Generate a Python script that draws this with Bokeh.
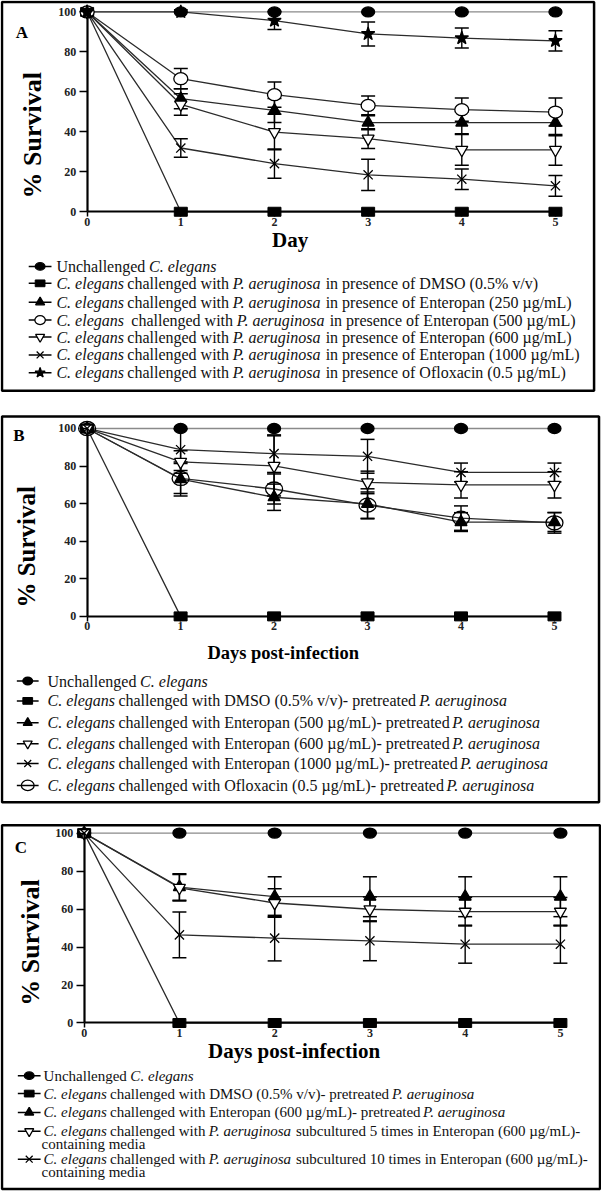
import math
from bokeh.plotting import figure
from bokeh.models import Range1d, LinearAxis, FixedTicker
from bokeh.core.properties import value
from bokeh.embed import file_html
from bokeh.resources import INLINE

# ---------------- data ----------------
DAYS = [0, 1, 2, 3, 4, 5]
X_TICKS = [0, 1, 2, 3, 4, 5]
Y_TICKS = [0, 20, 40, 60, 80, 100]

# Panel A
A_UNCH = [100, 100, 100, 100, 100, 100]
A_DMSO = [100, 0, 0, 0, 0, 0]
A_E250 = [100, 56.6, 50.7, 44.6, 44.6, 44.6]
A_E250_ERR = [0, 5.0, 6.0, 3.5, 5.5, 6.5]
A_E500 = [100, 66.6, 58.6, 53.2, 51.1, 49.9]
A_E500_ERR = [0, 5.1, 6.3, 4.7, 5.8, 7.0]
A_E600 = [100, 53.7, 39.9, 36.6, 31.0, 31.0]
A_E600_ERR = [0, 5.4, 8.9, 5.0, 7.7, 7.7]
A_E1000 = [100, 31.9, 24.1, 18.5, 16.3, 13.0]
A_E1000_ERR = [0, 4.6, 7.3, 7.8, 5.1, 5.2]
A_OFLO = [100, 100, 95.7, 89.0, 86.9, 85.5]
A_OFLO_ERR = [0, 0, 4.5, 6.0, 5.0, 5.1]

# Panel B
B_UNCH = [100, 100, 100, 100, 100, 100]
B_DMSO = [100, 0, 0, 0, 0, 0]
B_E500 = [100, 73.1, 63.4, 59.9, 50.2, 50.2]
B_E500_ERR = [0, 9.0, 7.0, 8.0, 5.0, 5.0]
B_E600 = [100, 82.2, 80.1, 71.3, 70.0, 70.0]
B_E600_ERR = [0, 6.0, 16.0, 6.0, 7.0, 7.0]
B_E1000 = [100, 88.7, 86.6, 85.2, 76.6, 76.6]
B_E1000_ERR = [0, 11.0, 10.0, 9.0, 5.0, 5.0]
B_OFLO = [100, 73.4, 67.8, 59.2, 52.3, 49.8]
B_OFLO_ERR = [0, 8.0, 8.0, 7.0, 6.5, 5.5]

# Panel C
C_UNCH = [100, 100, 100, 100, 100, 100]
C_DMSO = [100, 0, 0, 0, 0, 0]
C_E600 = [100, 71.6, 66.5, 66.5, 66.5, 66.5]
C_E600_ERR = [0, 7.0, 10.5, 10.5, 10.5, 10.5]
C_SUB5 = [100, 71.2, 63.2, 59.9, 58.6, 58.6]
C_SUB5_ERR = [0, 7.0, 7.5, 6.5, 7.5, 7.5]
C_SUB10 = [100, 46.4, 44.7, 43.3, 41.5, 41.5]
C_SUB10_ERR = [0, 12.0, 12.0, 10.5, 10.0, 10.0]

A_LEGEND = [
    [("Unchallenged ", False), ("C. elegans", True)],
    [("C. elegans", True), (" challenged with ", False), ("P. aeruginosa", True), (" in presence of DMSO (0.5% v/v)", False)],
    [("C. elegans", True), (" challenged with ", False), ("P. aeruginosa", True), (" in presence of Enteropan (250 \u00b5g/mL)", False)],
    [("C. elegans", True), ("  challenged with ", False), ("P. aeruginosa", True), (" in presence of Enteropan (500 \u00b5g/mL)", False)],
    [("C. elegans", True), (" challenged with ", False), ("P. aeruginosa", True), (" in presence of Enteropan (600 \u00b5g/mL)", False)],
    [("C. elegans", True), (" challenged with ", False), ("P. aeruginosa", True), (" in presence of Enteropan (1000 \u00b5g/mL)", False)],
    [("C. elegans", True), (" challenged with ", False), ("P. aeruginosa", True), (" in presence of Ofloxacin (0.5 \u00b5g/mL)", False)],
]
B_LEGEND = [
    [("Unchallenged ", False), ("C. elegans", True)],
    [("C. elegans", True), (" challenged with DMSO (0.5% v/v)- pretreated ", False), ("P. aeruginosa", True)],
    [("C. elegans", True), (" challenged with Enteropan (500 \u00b5g/mL)- pretreated ", False), ("P. aeruginosa", True)],
    [("C. elegans", True), (" challenged with Enteropan (600 \u00b5g/mL)- pretreated ", False), ("P. aeruginosa", True)],
    [("C. elegans", True), (" challenged with Enteropan (1000 \u00b5g/mL)- pretreated ", False), ("P. aeruginosa", True)],
    [("C. elegans", True), (" challenged with Ofloxacin (0.5 \u00b5g/mL)- pretreated ", False), ("P. aeruginosa", True)],
]
C_LEGEND = [
    [[("Unchallenged ", False), ("C. elegans", True)]],
    [[("C. elegans", True), (" challenged with DMSO (0.5% v/v)- pretreated ", False), ("P. aeruginosa", True)]],
    [[("C. elegans", True), (" challenged with Enteropan (600 \u00b5g/mL)- pretreated ", False), ("P. aeruginosa", True)]],
    [[("C. elegans", True), (" challenged with ", False), ("P. aeruginosa", True), (" subcultured 5 times in Enteropan (600 \u00b5g/mL)-", False)],
     [("containing media", False)]],
    [[("C. elegans", True), (" challenged with ", False), ("P. aeruginosa", True), (" subcultured 10 times in Enteropan (600 \u00b5g/mL)-", False)],
     [("containing media", False)]],
]

# ---------------- styles / layout ----------------
FONT = "Liberation Serif"
LINE_DARK = "#2b2b2b"
LINE_GRAY = "#8a8a8a"

# Times / Liberation Serif advance widths (1/1000 em)
REG = {' ': 250, '%': 833, '(': 333, ')': 333, '-': 333, '.': 250, '/': 278, ':': 278,
       'A': 722, 'B': 667, 'C': 667, 'D': 722, 'E': 611, 'F': 556, 'G': 722, 'H': 722, 'I': 333,
       'L': 611, 'M': 889, 'N': 722, 'O': 722, 'P': 556, 'S': 556, 'T': 611, 'U': 722,
       'a': 444, 'b': 500, 'c': 444, 'd': 500, 'e': 444, 'f': 333, 'g': 500, 'h': 500, 'i': 278,
       'j': 278, 'k': 500, 'l': 278, 'm': 778, 'n': 500, 'o': 500, 'p': 500, 'q': 500, 'r': 333,
       's': 389, 't': 278, 'u': 500, 'v': 500, 'w': 722, 'x': 500, 'y': 500, 'z': 444, '\u00b5': 540}
ITA = {' ': 250, '.': 250, 'C': 667, 'P': 611, 'a': 500, 'e': 444, 'g': 500, 'i': 278, 'l': 278,
       'n': 500, 'o': 500, 'r': 389, 's': 389, 'u': 500}


def tw(s, italic, size):
    tbl = ITA if italic else REG
    k = 1.0 if italic else 1.007
    return k * sum(tbl.get(ch, 500) for ch in s) * size / 1000.0


# canvas in reference-pixel units
XL, XR, YT, YB = 0.5, 607.5, 0.5, 1199.5

p = figure(width=601, height=1192, x_range=Range1d(XL, XR), y_range=Range1d(YB, YT),
           x_axis_type=None, y_axis_type=None, toolbar_location=None,
           output_backend="svg", min_border=0, outline_line_color=None,
           background_fill_color="white", border_fill_color="white")

PANELS = {
    "A": dict(box=(2, 600, 2, 393), anchors=(88, 561, 12, 213), letter=(22, 33),
              ylab=(33, 136, 26), xlab=("Day", 293, 241, 21),
              legend_y=[268, 285, 304, 322, 339, 357, 375], legend_x=57, mark=(29, 52), lsize=16),
    "B": dict(box=(2, 605, 419, 807), anchors=(88, 560, 431, 620), letter=(19, 438),
              ylab=(27, 550, 25), xlab=("Days post-infection", 286, 657, 18.5),
              legend_y=[685, 705, 727, 748, 768, 790], legend_x=48, mark=(17, 39), lsize=16),
    "C": dict(box=(2, 606, 830, 1196), anchors=(85, 566, 838, 1029), letter=(21, 852),
              ylab=(31, 948, 26), xlab=("Days post-infection", 297, 1057, 21),
              legend_y=[1082, 1100, 1119, 1138, 1166], legend_x=44, mark=(18, 41), lsize=15),
}

extra_x, extra_y = {}, {}
for name, cfg in PANELS.items():
    x0, x5, y100, y0 = cfg["anchors"]
    kx = (x5 - x0) / 5.0
    ky = (y0 - y100) / 100.0
    extra_x[name] = Range1d(0 - (x0 - XL) / kx, 5 + (XR - x5) / kx)
    extra_y[name] = Range1d(0 - (YB - y0) / ky, 100 + (y100 - YT) / ky)
p.extra_x_ranges = extra_x
p.extra_y_ranges = extra_y

MARK = {
    "fcircle": dict(kind="ell", w=13, h=10, fill="black"),
    "square": dict(kind="rect", w=13, h=9, fill="black"),
    "tri": dict(kind="scatter", marker="triangle", size=12, fill="black"),
    "itri": dict(kind="scatter", marker="inverted_triangle", size=12, fill="white"),
    "ocircle": dict(kind="ell", w=14, h=12, fill="white"),
    "ocircle_big": dict(kind="ell", w=17, h=14, fill=None),
    "x": dict(kind="scatter", marker="x", size=13, fill=None),
    "star": dict(kind="scatter", marker="star", size=14, fill="black"),
}


def draw_marker(xs, ys, m, scale=1.0, **rng):
    if m["kind"] == "ell":
        p.ellipse(x=xs, y=ys, width=m["w"] * scale, height=m["h"] * scale,
                  width_units="screen", height_units="screen",
                  fill_color=m["fill"], line_color="black", line_width=1.3, **rng)
    elif m["kind"] == "rect":
        p.rect(x=xs, y=ys, width=m["w"] * scale, height=m["h"] * scale,
               width_units="screen", height_units="screen",
               fill_color=m["fill"], line_color="black", line_width=1, **rng)
    else:
        p.scatter(x=xs, y=ys, marker=m["marker"], size=m["size"] * scale,
                  fill_color=m["fill"], line_color="black", line_width=1.3, **rng)


SERIES = {
    "A": [(A_UNCH, None, "fcircle", LINE_GRAY), (A_DMSO, None, "square", LINE_DARK),
          (A_E250, A_E250_ERR, "tri", LINE_DARK), (A_E500, A_E500_ERR, "ocircle", LINE_DARK),
          (A_E600, A_E600_ERR, "itri", LINE_DARK), (A_E1000, A_E1000_ERR, "x", LINE_DARK),
          (A_OFLO, A_OFLO_ERR, "star", LINE_DARK)],
    "B": [(B_UNCH, None, "fcircle", LINE_GRAY), (B_DMSO, None, "square", LINE_DARK),
          (B_E500, B_E500_ERR, "tri", LINE_DARK), (B_E600, B_E600_ERR, "itri", LINE_DARK),
          (B_E1000, B_E1000_ERR, "x", LINE_DARK), (B_OFLO, B_OFLO_ERR, "ocircle_big", LINE_DARK)],
    "C": [(C_UNCH, None, "fcircle", LINE_GRAY), (C_DMSO, None, "square", LINE_DARK),
          (C_E600, C_E600_ERR, "tri", LINE_DARK), (C_SUB5, C_SUB5_ERR, "itri", LINE_DARK),
          (C_SUB10, C_SUB10_ERR, "x", LINE_DARK)],
}
LEGENDS = {"A": A_LEGEND, "B": B_LEGEND, "C": C_LEGEND}


def style_axis(ax, tick_out, standoff):
    ax.axis_line_width = 2.2
    ax.axis_line_color = "black"
    ax.major_tick_line_width = 1.5
    ax.major_tick_out = tick_out
    ax.major_tick_in = 0
    ax.minor_tick_out = 0
    ax.minor_tick_in = 0
    ax.major_label_text_font = FONT
    ax.major_label_text_font_style = "bold"
    ax.major_label_text_font_size = "12px"
    ax.major_label_text_color = "#222222"
    ax.major_label_standoff = standoff


for name, cfg in PANELS.items():
    rng = dict(x_range_name=name, y_range_name=name)
    # panel border
    l, r, t, b = cfg["box"]
    p.quad(left=[l], right=[r], top=[t], bottom=[b], fill_color=None,
           line_color="black", line_width=2.5)

    # axes
    xa = LinearAxis(fixed_location=0, bounds=(0, 5), ticker=FixedTicker(ticks=X_TICKS), **rng)
    ya = LinearAxis(fixed_location=0, bounds=(0, 100), ticker=FixedTicker(ticks=Y_TICKS), **rng)
    style_axis(xa, 5, 1)
    style_axis(ya, 8, 3)
    p.add_layout(xa, "below")
    p.add_layout(ya, "left")

    series = SERIES[name]
    for vals, err, mk, lc in series:
        p.line(x=DAYS, y=vals, line_color=lc, line_width=1.3, **rng)
    for vals, err, mk, lc in series:
        if err is None:
            continue
        xs = [d for d, e in zip(DAYS, err) if e > 0]
        lo = [v - e for v, e in zip(vals, err) if e > 0]
        hi = [v + e for v, e in zip(vals, err) if e > 0]
        p.segment(x0=xs, y0=lo, x1=xs, y1=hi, line_color="black", line_width=1.4, **rng)
        p.scatter(x=xs + xs, y=lo + hi, marker="dash", size=14, line_color="black",
                  line_width=1.5, **rng)
    for vals, err, mk, lc in series:
        draw_marker(DAYS, vals, MARK[mk], **rng)

    # titles
    lx, ly = cfg["letter"]
    p.text(x=[lx], y=[ly], text=[name], text_font=value(FONT), text_font_style="bold",
           text_font_size=value("17px"), text_align="center", text_baseline="middle")
    yx, yy, ys = cfg["ylab"]
    p.text(x=[yx], y=[yy], text=["% Survival"], angle=math.pi / 2, text_font=value(FONT),
           text_font_style="bold", text_font_size=value(f"{ys}px"),
           text_align="center", text_baseline="middle")
    xt, xx, xy, xs_ = cfg["xlab"]
    p.text(x=[xx], y=[xy], text=[xt], text_font=value(FONT), text_font_style="bold",
           text_font_size=value(f"{xs_}px"), text_align="center", text_baseline="middle")

    # legend
    size = cfg["lsize"]
    m0, m1 = cfg["mark"]
    reg = dict(x=[], y=[], text=[])
    ita = dict(x=[], y=[], text=[])
    rows = LEGENDS[name]
    for i, (row, ry) in enumerate(zip(rows, cfg["legend_y"])):
        lines = row if name == "C" else [row]
        for j, segs in enumerate(lines):
            cx = cfg["legend_x"] if j == 0 else cfg["legend_x"] - 2
            yy_ = ry + j * 13
            for txt, it in segs:
                lead = len(txt) - len(txt.lstrip(" "))
                core = txt.strip(" ")
                tgt = ita if it else reg
                tgt["x"].append(cx + tw(" " * lead, it, size))
                tgt["y"].append(yy_)
                tgt["text"].append(core)
                cx += tw(txt, it, size)
        # legend symbol
        mk = series[i][2]
        p.segment(x0=[m0], y0=[ry], x1=[m1], y1=[ry], line_color="black", line_width=1.5)
        draw_marker([(m0 + m1) / 2], [ry], MARK[mk], scale=0.75)
    p.text(x="x", y="y", text="text", source=reg, text_font=value(FONT),
           text_font_size=value(f"{size}px"), text_baseline="middle", text_align="left",
           text_color="#111111")
    p.text(x="x", y="y", text="text", source=ita, text_font=value(FONT), text_font_style="italic",
           text_font_size=value(f"{size}px"), text_baseline="middle", text_align="left",
           text_color="#111111")

open("out.html", "w").write(file_html(p, INLINE))
